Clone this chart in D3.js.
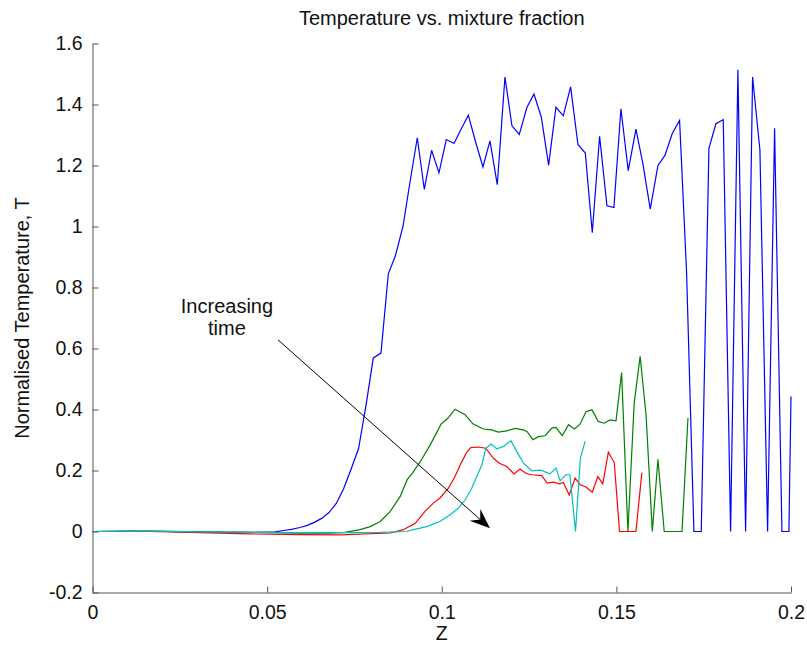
<!DOCTYPE html>
<html><head><meta charset="utf-8">
<script src="https://cdn.jsdelivr.net/npm/d3@7"></script>
<style>body{margin:0;background:#fff}svg{display:block}</style>
</head><body><svg id="c" width="807" height="646"></svg>
<script>
const X_TICKS=[0,0.05,0.1,0.15,0.2];
const X_TICK_LABELS=["0","0.05","0.1","0.15","0.2"];
const Y_TICKS=[-0.2,0,0.2,0.4,0.6,0.8,1,1.2,1.4,1.6];
const Y_TICK_LABELS=["-0.2","0","0.2","0.4","0.6","0.8","1","1.2","1.4","1.6"];

const BLUE_Z=[0,0.0108,0.0222,0.0308,0.0394,0.048,0.0523,0.0552,0.0573,0.0594,0.0615,0.0635,0.0656,0.0677,0.0698,0.0719,0.0739,0.0762,0.0784,0.0804,0.0826,0.0847,0.0867,0.0889,0.0909,0.0930,0.0950,0.0971,0.0992,0.1013,0.1035,0.1055,0.1076,0.1098,0.1118,0.1138,0.1159,0.1181,0.1201,0.1222,0.1244,0.1264,0.1285,0.1306,0.1327,0.1348,0.1369,0.1390,0.1411,0.1431,0.1452,0.1473,0.1493,0.1513,0.1534,0.1556,0.1576,0.1597,0.1619,0.1639,0.1660,0.1681,0.1701,0.1722,0.1743,0.1765,0.1785,0.1806,0.1827,0.1848,0.1870,0.1890,0.1911,0.1933,0.1953,0.1974,0.1994,0.2];
const BLUE_T=[0,0.001,0,-0.002,-0.003,-0.003,-0.001,0.004,0.008,0.013,0.02,0.03,0.043,0.062,0.092,0.14,0.2,0.273,0.42,0.569,0.585,0.845,0.903,1.0,1.145,1.291,1.122,1.25,1.176,1.285,1.272,1.318,1.365,1.273,1.195,1.281,1.137,1.49,1.33,1.302,1.391,1.434,1.359,1.201,1.391,1.363,1.458,1.269,1.241,0.98,1.296,1.068,1.062,1.386,1.183,1.319,1.205,1.057,1.2,1.233,1.305,1.348,0.85,0,0,1.256,1.337,1.35,0,1.514,0,1.49,1.251,0,1.322,0,0,0.443];

const GREEN_Z=[0,0.0165,0.0308,0.0451,0.0595,0.068,0.0723,0.0766,0.0795,0.0824,0.0852,0.0881,0.0901,0.0915,0.0938,0.0967,0.0998,0.1018,0.1038,0.1067,0.1089,0.1119,0.1143,0.1162,0.1186,0.121,0.1233,0.1244,0.1261,0.1277,0.1296,0.1315,0.1327,0.1345,0.1363,0.138,0.1396,0.1413,0.143,0.1448,0.1465,0.1482,0.1499,0.1515,0.1533,0.1551,0.1568,0.1585,0.1603,0.1619,0.1637,0.1654,0.1671,0.1688,0.1705];
const GREEN_T=[0,0.001,-0.001,-0.003,-0.005,-0.005,-0.003,0.006,0.016,0.033,0.065,0.115,0.17,0.19,0.228,0.284,0.352,0.372,0.401,0.383,0.353,0.336,0.333,0.326,0.330,0.338,0.333,0.328,0.301,0.311,0.314,0.339,0.341,0.314,0.35,0.336,0.352,0.393,0.399,0.361,0.355,0.366,0.363,0.521,0,0.421,0.574,0.383,0,0.237,0,0,0,0,0.372];

const RED_Z=[0,0.0165,0.0308,0.0451,0.0595,0.0709,0.0852,0.089,0.0924,0.0952,0.0976,0.0995,0.1019,0.1038,0.1053,0.107,0.1083,0.1105,0.1126,0.1148,0.1165,0.1186,0.1207,0.1224,0.1242,0.1258,0.1286,0.1302,0.132,0.1337,0.1348,0.1365,0.1382,0.1396,0.1413,0.1431,0.1447,0.1461,0.1477,0.1494,0.1509,0.1525,0.1541,0.1556,0.1573];
const RED_T=[0,0,-0.004,-0.008,-0.01,-0.011,-0.005,0.006,0.027,0.066,0.093,0.11,0.142,0.18,0.219,0.257,0.275,0.277,0.273,0.24,0.224,0.213,0.189,0.205,0.19,0.186,0.183,0.159,0.162,0.156,0.161,0.12,0.175,0.153,0.146,0.129,0.18,0.156,0.26,0.226,0,0,0,0,0.193];

const CYAN_Z=[0,0.0165,0.0308,0.0451,0.0595,0.0738,0.0824,0.09,0.0919,0.0957,0.0995,0.1024,0.1048,0.1067,0.1086,0.11,0.1115,0.1126,0.1141,0.1158,0.1177,0.1198,0.1215,0.1234,0.1258,0.1283,0.131,0.1327,0.1339,0.1355,0.1367,0.1383,0.1397,0.1411];
const CYAN_T=[0,0.001,-0.001,-0.003,-0.004,-0.004,-0.003,0,0.006,0.016,0.033,0.055,0.077,0.104,0.142,0.18,0.219,0.273,0.287,0.271,0.279,0.298,0.262,0.224,0.199,0.201,0.189,0.208,0.166,0.186,0.186,0,0.241,0.297];

const SERIES=[
  {z:BLUE_Z,t:BLUE_T,color:"#0000ff"},
  {z:GREEN_Z,t:GREEN_T,color:"#008000"},
  {z:RED_Z,t:RED_T,color:"#ff0000"},
  {z:CYAN_Z,t:CYAN_T,color:"#00bfbf"}
];

const TITLE="Temperature vs. mixture fraction";
const X_LABEL="Z";
const Y_LABEL="Normalised Temperature, T";
const NOTE_LINES=["Increasing","time"];
const NOTE_POS=[0.0385,0.718];
const ARROW_FROM=[0.0531,0.6285];
const ARROW_TO=[0.1138,0.011];

const FONT='"Liberation Sans", Arial, Helvetica, sans-serif';
const FS=19.5;
const L=92.5,R=791,T=43.5,B=592.5;

const svg=d3.select("#c");
const x=d3.scaleLinear().domain([0,0.2]).range([L,R]);
const y=d3.scaleLinear().domain([-0.2,1.6]).range([B,T]);

// series
const line=d3.line().x(d=>x(d[0])).y(d=>y(d[1]));
SERIES.forEach(s=>{
  svg.append("path").datum(d3.zip(s.z,s.t)).attr("d",line)
    .attr("fill","none").attr("stroke",s.color).attr("stroke-width",1.2)
    .attr("stroke-linejoin","miter");
});

// axes
const xAxis=d3.axisBottom(x).tickValues(X_TICKS).tickFormat((d,i)=>X_TICK_LABELS[i])
  .tickSizeInner(-6).tickSizeOuter(0).tickPadding(13);
const yAxis=d3.axisLeft(y).tickValues(Y_TICKS).tickFormat((d,i)=>Y_TICK_LABELS[i])
  .tickSizeInner(-6).tickSizeOuter(0).tickPadding(10);
const gx=svg.append("g").attr("transform",`translate(0,${B})`).call(xAxis);
const gy=svg.append("g").attr("transform",`translate(${L},0)`).call(yAxis);
[gx,gy].forEach(g=>{
  g.selectAll("path.domain").attr("stroke","#555").attr("stroke-width",1);
  g.selectAll(".tick line").attr("stroke","#555").attr("stroke-width",1);
  g.selectAll("text").attr("font-family",FONT).attr("font-size",FS).attr("fill","#111");
});

// title & labels
svg.append("text").attr("x",(L+R)/2).attr("y",25).attr("text-anchor","middle")
  .attr("font-family",FONT).attr("font-size",20).attr("fill","#111").text(TITLE);
svg.append("text").attr("x",(L+R)/2).attr("y",640).attr("text-anchor","middle")
  .attr("font-family",FONT).attr("font-size",FS).attr("fill","#111").text(X_LABEL);
svg.append("text").attr("transform",`translate(29,${(T+B)/2}) rotate(-90)`).attr("text-anchor","middle")
  .attr("font-family",FONT).attr("font-size",20).attr("fill","#111").text(Y_LABEL);

// annotation
const nt=svg.append("text").attr("font-family",FONT).attr("font-size",20).attr("fill","#111")
  .attr("text-anchor","middle");
NOTE_LINES.forEach((s,i)=>{
  nt.append("tspan").attr("x",x(NOTE_POS[0])).attr("y",y(NOTE_POS[1])+i*22.5).text(s);
});
const p0=[x(ARROW_FROM[0]),y(ARROW_FROM[1])], p1=[x(ARROW_TO[0]),y(ARROW_TO[1])];
const dx=p1[0]-p0[0], dy=p1[1]-p0[1], len=Math.hypot(dx,dy);
const ux=dx/len, uy=dy/len, nx=-uy, ny=ux;
const HL=20, HW=8, NOTCH=13;
const nb=[p1[0]-ux*NOTCH,p1[1]-uy*NOTCH];
svg.append("line").attr("x1",p0[0]).attr("y1",p0[1]).attr("x2",nb[0]).attr("y2",nb[1])
  .attr("stroke","#000").attr("stroke-width",1);
const head=[p1,[p1[0]-ux*HL+nx*HW,p1[1]-uy*HL+ny*HW],nb,[p1[0]-ux*HL-nx*HW,p1[1]-uy*HL-ny*HW]];
svg.append("path").attr("d","M"+head.map(p=>p.join(",")).join("L")+"Z").attr("fill","#000");
</script>
</body></html>
